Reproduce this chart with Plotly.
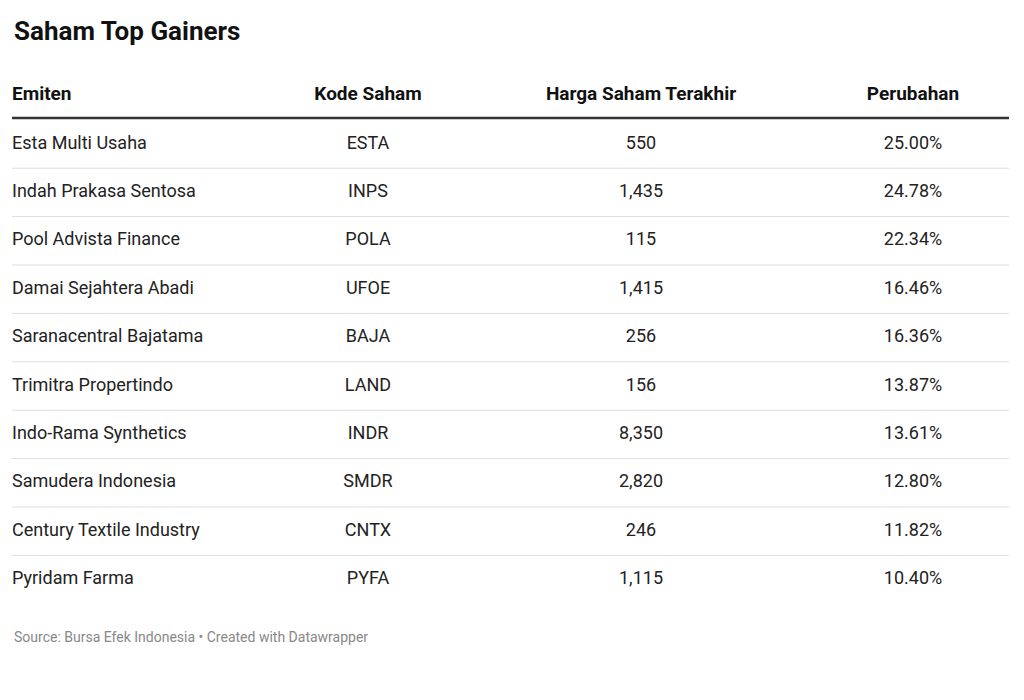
import plotly.graph_objects as go

title = "Saham Top Gainers"
headers = ["Emiten", "Kode Saham", "Harga Saham Terakhir", "Perubahan"]
emiten = ["Esta Multi Usaha", "Indah Prakasa Sentosa", "Pool Advista Finance", "Damai Sejahtera Abadi",
          "Saranacentral Bajatama", "Trimitra Propertindo", "Indo-Rama Synthetics", "Samudera Indonesia",
          "Century Textile Industry", "Pyridam Farma"]
kode = ["ESTA", "INPS", "POLA", "UFOE", "BAJA", "LAND", "INDR", "SMDR", "CNTX", "PYFA"]
harga = [550, 1435, 115, 1415, 256, 156, 8350, 2820, 246, 1115]
perubahan = [25.00, 24.78, 22.34, 16.46, 16.36, 13.87, 13.61, 12.80, 11.82, 10.40]
source = "Source: Bursa Efek Indonesia • Created with Datawrapper"

W, H = 1024, 700
DX, DY = 9, 7  # compensate page body margin
col_x = [13, 369, 642, 914]
row0, row_h = 143, 48.4
rows_y = [row0 + i * row_h for i in range(len(emiten))]
FONT = "Roboto, Arial, sans-serif"
TXT = "#222222"

fig = go.Figure()
cols = [emiten, kode, [f"{v:,}" for v in harga], [f"{v:.2f}%" for v in perubahan]]
for j, vals in enumerate(cols):
    fig.add_trace(go.Scatter(
        x=[col_x[j]] * len(vals), y=rows_y, text=vals, mode="text",
        textposition="middle right" if j == 0 else "middle center",
        textfont=dict(family=FONT, size=18, color=TXT), hoverinfo="skip", showlegend=False))
fig.add_trace(go.Scatter(
    x=col_x, y=[94] * 4, text=[f"<b>{h}</b>" for h in headers], mode="text",
    textposition=["middle right"] + ["middle center"] * 3,
    textfont=dict(family=FONT, size=19, color="#111111"), hoverinfo="skip", showlegend=False))

shapes = [dict(type="line", x0=13, x1=1010, y0=117, y1=117, line=dict(color="#333333", width=2.5))]
for y in rows_y[:-1]:
    shapes.append(dict(type="line", x0=13, x1=1010, y0=y + row_h / 2, y1=y + row_h / 2,
                       line=dict(color="#dddddd", width=1)))

fig.update_layout(
    width=W, height=H, margin=dict(l=0, r=0, t=0, b=0),
    paper_bgcolor="white", plot_bgcolor="white", shapes=shapes,
    xaxis=dict(range=[DX, W + DX], visible=False, fixedrange=True),
    yaxis=dict(range=[H + DY, DY], visible=False, fixedrange=True),
    annotations=[
        dict(x=13, y=30, xref="x", yref="y", text=f"<b>{title}</b>", showarrow=False,
             xanchor="left", yanchor="middle", font=dict(family=FONT, size=26, color="#111111")),
        dict(x=13, y=636, xref="x", yref="y", text=source, showarrow=False,
             xanchor="left", yanchor="middle", font=dict(family=FONT, size=14, color="#888888")),
    ],
)
fig.write_html("out.html")
